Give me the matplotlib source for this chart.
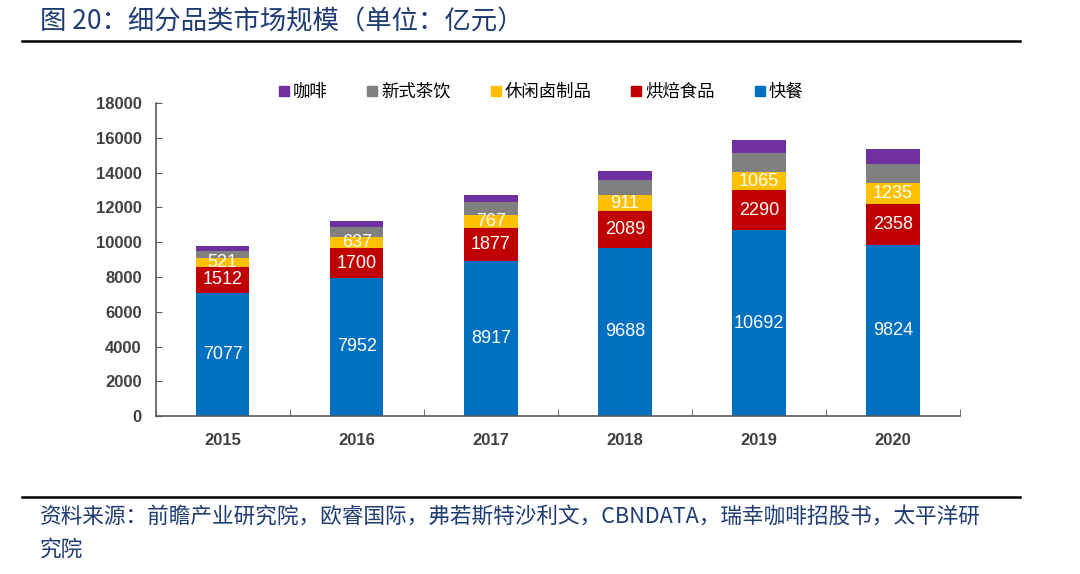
import matplotlib
matplotlib.use("Agg")
import matplotlib.pyplot as plt
import numpy as np
from matplotlib.lines import Line2D

plt.rcParams["font.family"] = ["Liberation Sans", "Noto Sans CJK SC", "DejaVu Sans"]

years = ["2015", "2016", "2017", "2018", "2019", "2020"]
# 单位：亿元
kuaican = [7077, 7952, 8917, 9688, 10692, 9824]     # 快餐
hongbei = [1512, 1700, 1877, 2089, 2290, 2358]      # 烘焙食品
luzhipin = [521, 637, 767, 911, 1065, 1235]         # 休闲卤制品
chayin = [400, 575, 750, 860, 1090, 1090]           # 新式茶饮 (无标注, 估计值)
kafei = [290, 345, 400, 520, 710, 860]              # 咖啡 (无标注, 估计值)

series = [
    ("快餐", kuaican, "#0070C0", True),
    ("烘焙食品", hongbei, "#C00000", True),
    ("休闲卤制品", luzhipin, "#FFC000", True),
    ("新式茶饮", chayin, "#808080", False),
    ("咖啡", kafei, "#7030A0", False),
]

fig = plt.figure(figsize=(10.8, 5.74), dpi=100)
ax = fig.add_axes([0.144, 0.275, 0.745, 0.5455])

x = np.arange(len(years))
bottom = np.zeros(len(years))
handles = []
for name, vals, color, show in series:
    vals = np.array(vals, dtype=float)
    bars = ax.bar(x, vals, 0.4, bottom=bottom, color=color, label=name, zorder=2)
    if show:
        ax.bar_label(bars, labels=[str(int(v)) for v in vals], label_type="center",
                     color="white", fontsize=13)
    bottom += vals
    handles.append((name, color))

ax.set_xlim(-0.5, len(years) - 0.5)
ax.set_ylim(0, 18000)
ax.set_yticks(range(0, 18001, 2000))
ax.set_xticks(x)
ax.set_xticklabels(years)
ax.set_xticks(np.arange(-0.5, len(years), 1.0), minor=True)
ax.tick_params(axis="x", which="major", length=0, pad=12)
ax.tick_params(axis="x", which="minor", direction="in", length=5, color="#595959")
ax.tick_params(axis="y", direction="in", length=4, color="#595959", pad=10)
for lab in ax.get_xticklabels() + ax.get_yticklabels():
    lab.set_fontsize(12)
    lab.set_fontweight("bold")
    lab.set_color("#404040")
for s in ["top", "right"]:
    ax.spines[s].set_visible(False)
for s in ["left", "bottom"]:
    ax.spines[s].set_color("#595959")
    ax.spines[s].set_linewidth(1.2)

# 图例：咖啡在前
leg_handles = [Line2D([0], [0], marker="s", linestyle="none", markersize=7,
                      markerfacecolor=c, markeredgecolor=c) for _, c in handles[::-1]]
leg_labels = [n for n, _ in handles[::-1]]
fig.legend(leg_handles, leg_labels, loc="center", bbox_to_anchor=(0.5, 0.841),
           ncol=5, frameon=False, fontsize=12.5, handletextpad=0.1,
           columnspacing=2.2, handlelength=0.8)

# 标题与来源
fig.text(40 / 1080, 1 - 22 / 574, "图 20：细分品类市场规模（单位：亿元）",
         fontsize=19, color="#1F3B73", va="center", ha="left",
         family=["Noto Sans CJK SC", "DejaVu Sans"])
fig.add_artist(Line2D([22 / 1080, 1020 / 1080], [1 - 41 / 574, 1 - 41 / 574],
                      color="black", linewidth=1.8))
fig.add_artist(Line2D([22 / 1080, 1020 / 1080], [1 - 497 / 574, 1 - 497 / 574],
                      color="black", linewidth=1.8))
fig.text(40 / 1080, 1 - 518 / 574,
         "资料来源：前瞻产业研究院，欧睿国际，弗若斯特沙利文，CBNDATA，瑞幸咖啡招股书，太平洋研",
         fontsize=15.6, color="#1F3B73", va="center", ha="left",
         family=["Noto Sans CJK SC", "DejaVu Sans"])
fig.text(40 / 1080, 1 - 550 / 574, "究院",
         fontsize=15.6, color="#1F3B73", va="center", ha="left",
         family=["Noto Sans CJK SC", "DejaVu Sans"])

fig.savefig("out.png", dpi=100)
